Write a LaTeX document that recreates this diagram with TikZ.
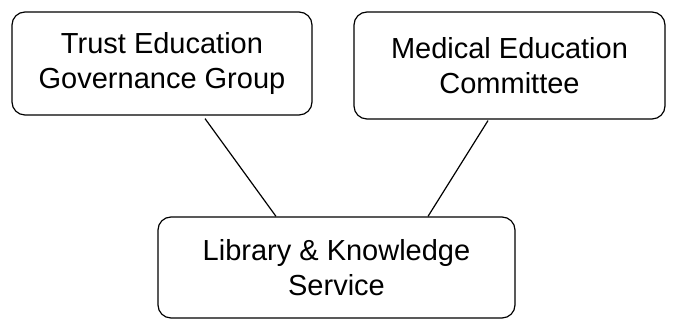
\documentclass[tikz,border=0pt]{standalone}
\usepackage{fontspec}
\setmainfont{Liberation Sans}
\usepackage{tikz}

\begin{document}
\begin{tikzpicture}[x=1pt,y=1pt,line width=1.2pt,
  group/.style={draw,rounded corners=13pt,align=center,inner sep=0pt,
    font=\fontsize{29}{35}\selectfont}]
		\useasboundingbox (0,0) rectangle (675,320);
		\node[group,minimum width=300pt,minimum height=103pt] (teg) at (162,256.5) {Trust Education\\Governance Group};
		\node[group,minimum width=311pt,minimum height=107pt] (mec) at (509.5,254.5) {Medical Education\\Committee};
		\node[group,minimum width=357pt,minimum height=101pt] (lks) at (336.5,52.5) {Library \& Knowledge\\Service};
		\draw ([xshift=43pt,yshift=-3pt]teg.south) -- ([xshift=-60.5pt]lks.north);
		\draw ([xshift=-21.5pt,yshift=-1pt]mec.south) -- ([xshift=91.5pt]lks.north);
	\end{tikzpicture}
\end{document}
